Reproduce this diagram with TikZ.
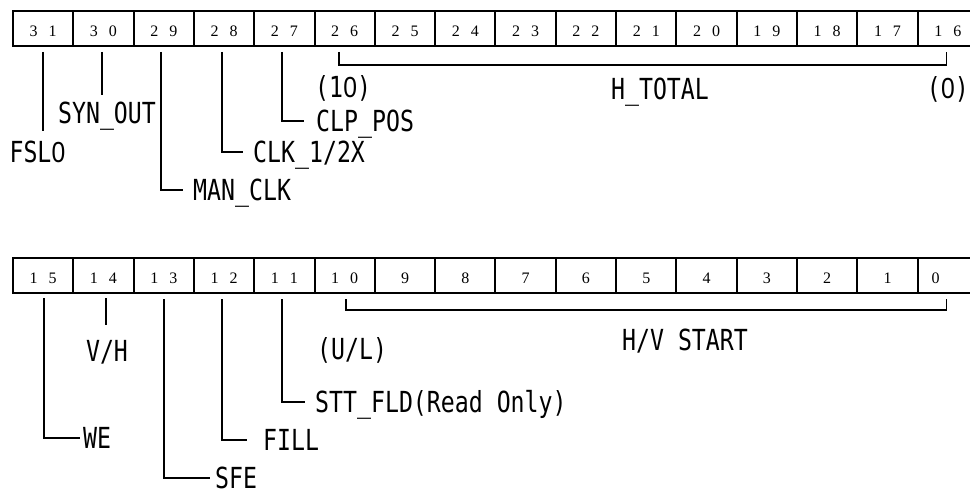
\documentclass[tikz,border=0pt]{standalone}
\usepackage{fontspec}
\newfontfamily\lblfont[FakeStretch=0.80]{DejaVu Sans Mono}
\newfontfamily\zerofont[FakeStretch=0.85]{Liberation Sans}
\newfontfamily\digfont{Liberation Serif}
\newcommand\twod[2]{#1\hspace{11pt}#2}
\newcommand\zr{\makebox[\fontcharwd\font`0][c]{\zerofont 0}}
\begin{document}
\begin{tikzpicture}[x=1pt,y=-1pt,
  cell/.style={draw, line width=2pt, minimum width=60.31pt, minimum height=35pt,
    inner sep=0pt, anchor=north west, text height=15.5pt, text depth=0pt,
    font=\digfont\fontsize{16}{16}\selectfont},
  lbl/.style={font=\lblfont\fontsize{29}{29}\selectfont, inner sep=0pt,
    text height=21pt, text depth=0pt},
  wire/.style={line width=2pt},
  brk/.style={line width=1.7pt}]
\useasboundingbox (0,0) rectangle (970,495);
% top register
\foreach \k/\a/\b in {0/3/1,1/3/0,2/2/9,3/2/8,4/2/7,5/2/6,6/2/5,7/2/4,8/2/3,9/2/2,10/2/1,11/2/0,12/1/9,13/1/8,14/1/7,15/1/6}{
  \node[cell] (t\a\b) at ({12+60.31*\k},10) {\twod{\a}{\b}};
}
% bottom register
\foreach \k/\a/\b in {0/1/5,1/1/4,2/1/3,3/1/2,4/1/1,5/1/0}{
  \node[cell] (b\a\b) at ({12+60.31*\k},257) {\twod{\a}{\b}};
}
\foreach \k/\n in {6/9,7/8,8/7,9/6,10/5,11/4,12/3,13/2,14/1}{
  \node[cell] (b\n) at ({12+60.31*\k},257) {\n};
}
\node[cell] (b0) at ({12+60.31*15},257) {\makebox[60.31pt][l]{\hspace{14pt}0}};

% top labels
\node[lbl] (fsl) at (37.5,152) {FSL\zr};
\node[lbl] (syn) at (107,113) {SYN\_OUT};
\node[lbl, anchor=west] (man) at (193,190) {MAN\_CLK};
\node[lbl, anchor=west] (clk) at (253,152) {CLK\_1/2X};
\node[lbl, anchor=west] (clp) at (316,121) {CLP\_POS};
\node[lbl, anchor=west] (ten) at (315,87) {(1\zr)};
\node[lbl] (htot) at (660,89) {H\_TOTAL};
\node[lbl, anchor=east] (zero) at (969,88) {(\zr)};

\draw[wire] ([yshift=-5pt]t31.south) -- ([yshift=10pt]fsl.north -| t31.south);
\draw[wire] ([xshift=-1.5pt,yshift=-5pt]t30.south) -- ++(0,43);
\draw[wire] ([xshift=-2.8pt,yshift=-5pt]t29.south) |- ([xshift=-10pt]man.west);
\draw[wire] ([xshift=-2.1pt,yshift=-5pt]t28.south) |- ([xshift=-10pt]clk.west);
\draw[wire] ([xshift=-2.4pt,yshift=-5pt]t27.south) |- ([xshift=-12pt]clp.west);
\draw[brk] ([xshift=-5.6pt,yshift=-5pt]t26.south) -- ++(0,13) -| ([xshift=-1.4pt,yshift=-5pt]t16.south);

% bottom labels
\node[lbl, anchor=west] (we) at (83,438) {WE};
\node[lbl] (vh) at (107,351) {V/H};
\node[lbl, anchor=west] (sfe) at (215,478) {SFE};
\node[lbl, anchor=west] (fill) at (263,440) {FILL};
\node[lbl, anchor=west] (stt) at (315,402) {STT\_FLD(Read Only)};
\node[lbl, anchor=west] (ul) at (317,349) {(U/L)};
\node[lbl] (hvs) at (685,340) {H/V START};

\draw[wire] ([xshift=0.8pt,yshift=-4pt]b15.south) |- ([xshift=-3pt]we.west);
\draw[wire] ([xshift=2.5pt,yshift=-4pt]b14.south) -- ++(0,27);
\draw[wire] ([xshift=0.2pt,yshift=-5pt]b13.south) |- ([xshift=-5pt]sfe.west);
\draw[wire] ([xshift=-2.1pt,yshift=-5pt]b12.south) |- ([xshift=-16pt]fill.west);
\draw[wire] ([xshift=-2.4pt,yshift=-5pt]b11.south) |- ([xshift=-10pt]stt.west);
\draw[brk] ([xshift=1.4pt,yshift=-5pt]b10.south) -- ++(0,11) -| ([xshift=-1.4pt,yshift=-5pt]b0.south);
\end{tikzpicture}
\end{document}
